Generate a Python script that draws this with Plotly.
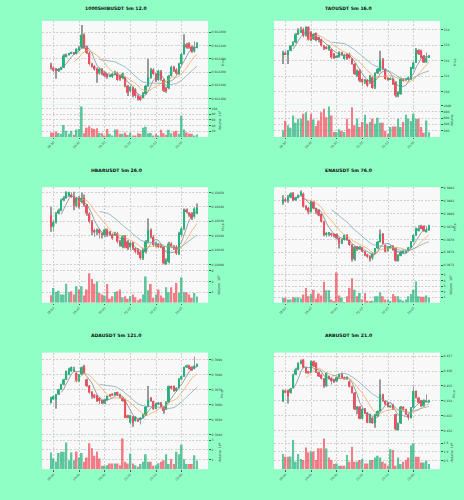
import numpy as np
import pandas as pd
import plotly.graph_objects as go

W, H = 464, 500
N = 58
TIME_INDEX = pd.date_range("2024-05-20 18:45", periods=N, freq="5min")
TICK_POS = [1, 11, 21, 31, 41, 51]
TICK_LABELS = [TIME_INDEX[i].strftime("%H:%M") for i in TICK_POS]
MAV = (5, 10, 20)

# ---------------- data ----------------
shib_open = [0.012211,0.012207,0.012205,0.012202,0.012204,0.012207,0.012224,0.012226,0.012228,0.012229,
             0.012227,0.012233,0.012237,0.012256,0.012237,0.012229,0.012212,0.012209,0.012205,0.012198,
             0.012204,0.012199,0.012197,0.012194,0.012193,0.012197,0.012199,0.012194,0.012191,0.012191,
             0.012179,0.012171,0.012176,0.012174,0.012164,0.012163,0.012161,0.012167,0.012179,0.012192,
             0.012204,0.012197,0.012188,0.012201,0.012188,0.012176,0.012176,0.012194,0.012207,0.012204,
             0.012197,0.012212,0.012227,0.012242,0.012243,0.012238,0.012231,0.012237]
shib_high = [0.012214,0.012209,0.012206,0.012206,0.012208,0.012227,0.012228,0.012229,0.012231,0.012230,
             0.012236,0.012239,0.012271,0.012258,0.012240,0.012231,0.012214,0.012211,0.012207,0.012207,
             0.012206,0.012201,0.012198,0.012196,0.012199,0.012202,0.012201,0.012196,0.012199,0.012193,
             0.012181,0.012180,0.012178,0.012176,0.012166,0.012164,0.012170,0.012181,0.012220,0.012206,
             0.012206,0.012199,0.012204,0.012203,0.012190,0.012178,0.012196,0.012210,0.012209,0.012206,
             0.012214,0.012229,0.012257,0.012244,0.012245,0.012240,0.012246,0.012245]
shib_low = [0.012204,0.012200,0.012190,0.012200,0.012203,0.012206,0.012222,0.012225,0.012227,0.012226,
            0.012226,0.012232,0.012235,0.012235,0.012227,0.012210,0.012207,0.012202,0.012184,0.012196,
            0.012195,0.012192,0.012190,0.012192,0.012191,0.012196,0.012186,0.012187,0.012189,0.012177,
            0.012164,0.012169,0.012162,0.012161,0.012157,0.012156,0.012160,0.012166,0.012178,0.012190,
            0.012195,0.012185,0.012186,0.012187,0.012170,0.012169,0.012174,0.012193,0.012200,0.012196,
            0.012196,0.012211,0.012226,0.012235,0.012235,0.012229,0.012229,0.012236]
shib_close = [0.012207,0.012202,0.012202,0.012204,0.012207,0.012225,0.012226,0.012228,0.012229,0.012228,
              0.012235,0.012237,0.012256,0.012237,0.012229,0.012212,0.012209,0.012204,0.012197,0.012205,
              0.012197,0.012194,0.012193,0.012195,0.012198,0.012200,0.012188,0.012189,0.012198,0.012179,
              0.012169,0.012178,0.012165,0.012164,0.012159,0.012158,0.012168,0.012179,0.012192,0.012204,
              0.012197,0.012187,0.012202,0.012189,0.012172,0.012171,0.012194,0.012208,0.012202,0.012198,
              0.012212,0.012227,0.012242,0.012237,0.012237,0.012231,0.012238,0.012243]
shib_volume_e7 = [16,16,19,14,11,42,22,11,22,8,26,28,107,13,32,38,31,28,31,14,13,5,28,11,5,26,26,11,11,16,
                  7,16,5,5,13,11,32,36,13,14,5,11,5,25,13,8,25,13,19,22,11,75,26,16,11,11,5,9]

tao_open = [332.43,332.53,332.36,332.64,332.96,333.17,333.70,333.81,334.02,333.60,334.17,333.81,333.38,333.77,333.49,
            333.38,332.96,332.89,332.74,332.74,332.43,332.21,332.26,332.53,332.11,332.43,332.43,332.11,331.79,331.04,
            331.36,330.83,330.62,330.77,330.62,330.94,330.30,331.19,331.36,332.06,331.47,330.87,330.81,330.83,330.62,
            329.77,329.87,330.83,330.77,330.77,330.83,331.47,331.89,332.68,332.64,332.32,331.89,332.21]
tao_high = [332.64,332.60,332.68,333.00,333.24,333.77,334.08,334.17,334.13,334.20,334.20,333.91,333.77,333.81,333.55,
            333.43,333.00,332.96,333.00,332.79,332.49,332.36,332.60,332.57,332.45,332.49,332.53,332.17,331.85,331.43,
            331.43,330.89,330.83,330.83,331.09,331.00,331.26,331.53,332.64,332.17,331.53,330.94,330.94,330.89,330.68,
            330.04,330.89,330.89,330.89,331.00,331.62,331.96,332.81,332.74,332.70,332.36,332.53,332.36]
tao_low = [331.79,332.36,331.79,332.60,332.92,333.13,333.64,333.77,333.49,333.55,333.28,333.24,333.32,333.24,333.17,
           332.89,332.68,332.74,332.64,332.11,332.11,332.17,332.21,332.36,332.06,332.06,332.11,331.74,331.09,330.98,
           330.62,330.40,330.51,330.30,330.51,330.19,330.19,331.15,331.30,331.40,330.77,330.72,330.77,330.45,329.66,
           329.66,329.82,330.66,330.72,330.72,330.77,331.43,331.85,332.36,332.15,331.85,331.85,332.17]
tao_close = [332.49,332.43,332.64,332.96,333.17,333.70,333.96,333.96,333.60,334.17,333.32,333.32,333.70,333.32,333.32,
             332.96,332.79,332.81,332.96,332.21,332.17,332.32,332.53,332.43,332.38,332.11,332.17,331.79,331.15,331.36,
             330.72,330.62,330.77,330.40,331.04,330.26,331.19,331.47,332.06,331.47,330.83,330.77,330.89,330.51,329.77,
             329.98,330.83,330.72,330.83,330.94,331.57,331.89,332.68,332.43,332.21,331.89,332.21,332.32]
tao_volume = [210,504,368,294,683,452,578,578,735,788,525,735,557,347,525,788,893,630,966,683,158,158,242,189,158,
              578,263,945,368,578,315,473,704,420,473,578,420,609,452,452,189,105,315,336,336,578,315,473,704,578,
              504,735,578,578,315,137,525,150]

hbar_open = [0.220343,0.220263,0.220297,0.220355,0.220378,0.220447,0.220463,0.220477,0.220486,0.220470,
             0.220406,0.220463,0.220435,0.220463,0.220412,0.220355,0.220297,0.220240,0.220228,0.220244,
             0.220217,0.220205,0.220240,0.220228,0.220205,0.220205,0.220217,0.220159,0.220124,0.220198,
             0.220159,0.220120,0.220152,0.220113,0.220101,0.220090,0.220044,0.220090,0.220159,0.220240,
             0.220194,0.220129,0.220143,0.220136,0.220120,0.220005,0.220021,0.220147,0.220124,0.220124,
             0.220078,0.220205,0.220251,0.220382,0.220359,0.220355,0.220332,0.220355]
hbar_high = [0.220401,0.220310,0.220366,0.220389,0.220458,0.220477,0.220510,0.220505,0.220500,0.220505,
             0.220470,0.220477,0.220500,0.220486,0.220420,0.220366,0.220310,0.220251,0.220251,0.220251,
             0.220223,0.220251,0.220251,0.220233,0.220217,0.220228,0.220228,0.220170,0.220205,0.220205,
             0.220170,0.220159,0.220159,0.220120,0.220113,0.220101,0.220113,0.220170,0.220320,0.220251,
             0.220205,0.220159,0.220152,0.220143,0.220129,0.220044,0.220159,0.220159,0.220136,0.220136,
             0.220228,0.220263,0.220389,0.220389,0.220366,0.220366,0.220400,0.220425]
hbar_low = [0.220228,0.220228,0.220285,0.220350,0.220370,0.220440,0.220458,0.220470,0.220463,0.220378,
            0.220396,0.220389,0.220425,0.220401,0.220340,0.220285,0.220205,0.220194,0.220205,0.220182,
            0.220182,0.220194,0.220194,0.220198,0.220170,0.220198,0.220147,0.220124,0.220113,0.220113,
            0.220101,0.220101,0.220101,0.220078,0.220067,0.220032,0.220032,0.220078,0.220147,0.220182,
            0.220124,0.220120,0.220113,0.220113,0.220000,0.219998,0.220009,0.220113,0.220101,0.220067,
            0.220067,0.220194,0.220240,0.220355,0.220332,0.220310,0.220320,0.220350]
hbar_close = [0.220263,0.220297,0.220355,0.220378,0.220447,0.220463,0.220500,0.220500,0.220470,0.220406,
              0.220463,0.220401,0.220463,0.220412,0.220355,0.220297,0.220233,0.220223,0.220244,0.220217,
              0.220205,0.220244,0.220205,0.220205,0.220182,0.220223,0.220159,0.220136,0.220198,0.220124,
              0.220113,0.220152,0.220113,0.220090,0.220078,0.220044,0.220101,0.220159,0.220240,0.220194,
              0.220136,0.220147,0.220120,0.220120,0.220009,0.220032,0.220147,0.220124,0.220113,0.220078,
              0.220217,0.220251,0.220382,0.220366,0.220343,0.220320,0.220389,0.220396]
hbar_volume_e6 = [1.42,2.78,2.04,2.28,1.54,1.54,3.58,1.98,2.16,1.54,3.09,2.47,3.09,1.36,2.47,5.56,4.44,3.58,4.01,1.85,
                  1.54,1.36,3.52,0.74,1.23,2.04,2.16,2.47,1.05,1.23,0.74,1.23,1.54,1.05,0.49,0.74,1.54,4.94,2.35,3.52,
                  0.93,1.54,2.47,1.36,0.93,2.90,1.98,2.90,1.85,3.70,1.85,4.75,1.98,1.98,1.54,0.93,1.85,1.20]

ena_open = [0.398169,0.398221,0.398210,0.398252,0.398313,0.398221,0.398252,0.398288,0.398313,0.398118,
            0.398092,0.398030,0.398185,0.398082,0.398056,0.397994,0.397875,0.397669,0.397685,0.397695,
            0.397685,0.397685,0.397618,0.397540,0.397592,0.397669,0.397592,0.397514,0.397293,0.397489,
            0.397463,0.397478,0.397411,0.397370,0.397340,0.397308,0.397386,0.397463,0.397566,0.397685,
            0.397514,0.397427,0.397478,0.397499,0.397463,0.397272,0.397349,0.397396,0.397411,0.397427,
            0.397478,0.397566,0.397669,0.397736,0.397808,0.397808,0.397721,0.397746]
ena_high = [0.398288,0.398250,0.398290,0.398330,0.398339,0.398262,0.398300,0.398360,0.398330,0.398130,
            0.398107,0.398200,0.398195,0.398092,0.398070,0.398005,0.397890,0.397715,0.397715,0.397705,
            0.397695,0.397695,0.397630,0.397615,0.397680,0.397680,0.397602,0.397525,0.397500,0.397500,
            0.397500,0.397489,0.397420,0.397380,0.397355,0.397396,0.397470,0.397575,0.397757,0.397700,
            0.397525,0.397500,0.397510,0.397510,0.397475,0.397370,0.397420,0.397435,0.397430,0.397489,
            0.397575,0.397680,0.397785,0.397820,0.397830,0.397820,0.397800,0.397830]
ena_low = [0.398140,0.398180,0.398170,0.398240,0.398195,0.398200,0.398240,0.398280,0.398092,0.398056,
           0.397990,0.398020,0.398070,0.398000,0.397960,0.397860,0.397650,0.397640,0.397650,0.397640,
           0.397630,0.397600,0.397460,0.397530,0.397580,0.397580,0.397500,0.397260,0.397270,0.397420,
           0.397440,0.397400,0.397340,0.397310,0.397260,0.397280,0.397375,0.397450,0.397555,0.397530,
           0.397400,0.397415,0.397465,0.397425,0.397257,0.397260,0.397340,0.397386,0.397400,0.397415,
           0.397465,0.397555,0.397655,0.397725,0.397760,0.397720,0.397710,0.397736]
ena_close = [0.398221,0.398195,0.398262,0.398313,0.398210,0.398252,0.398288,0.398339,0.398107,0.398092,
             0.398020,0.398185,0.398082,0.398030,0.397978,0.397875,0.397669,0.397705,0.397705,0.397669,
             0.397654,0.397618,0.397540,0.397602,0.397669,0.397592,0.397514,0.397293,0.397489,0.397447,
             0.397489,0.397411,0.397360,0.397334,0.397298,0.397386,0.397463,0.397566,0.397685,0.397540,
             0.397411,0.397489,0.397499,0.397437,0.397272,0.397360,0.397411,0.397427,0.397422,0.397478,
             0.397566,0.397669,0.397772,0.397772,0.397772,0.397736,0.397746,0.397813]
ena_volume_e6 = [0.88,0.88,0.59,0.59,1.0,0.88,1.0,0.76,1.47,2.65,1.18,1.59,2.35,0.71,1.65,1.29,3.76,2.24,2.24,0.59,
                 0.18,5.41,1.29,0.88,0.12,1.18,2.65,4.41,2.35,1.18,1.76,0.59,1.76,0.35,0.18,0.35,1.18,1.18,1.88,1.18,
                 0.59,0.59,0.18,1.59,1.18,1.18,0.59,0.35,0.59,1.18,1.59,2.35,3.82,1.18,1.06,1.06,1.29,0.90]

ada_open = [0.706137,0.706357,0.706357,0.706687,0.707018,0.707348,0.707678,0.708009,0.708229,0.708229,
            0.708119,0.707568,0.708009,0.708559,0.707678,0.707282,0.706863,0.706687,0.706621,0.706467,
            0.706291,0.706092,0.706313,0.706687,0.706753,0.706643,0.706841,0.706687,0.706467,0.706357,
            0.705300,0.704815,0.705211,0.704925,0.705035,0.704991,0.705145,0.705300,0.705872,0.706467,
            0.706247,0.705740,0.706026,0.706137,0.705872,0.705696,0.706181,0.707238,0.707238,0.706907,
            0.707128,0.707678,0.707899,0.708493,0.708603,0.708515,0.708383,0.708559]
ada_high = [0.706530,0.706640,0.706720,0.707060,0.707390,0.707720,0.708270,0.708450,0.708560,0.708520,
            0.708160,0.708050,0.708540,0.708650,0.707720,0.707320,0.706900,0.706720,0.706660,0.706500,
            0.706330,0.706400,0.706620,0.706720,0.706790,0.706840,0.706880,0.706730,0.706510,0.706400,
            0.705340,0.705340,0.705250,0.705250,0.705080,0.705190,0.705410,0.705920,0.707238,0.706510,
            0.706290,0.706140,0.706180,0.706180,0.705920,0.706230,0.707280,0.707280,0.707280,0.707170,
            0.707760,0.707940,0.708540,0.708650,0.708650,0.708560,0.709200,0.708740]
ada_low = [0.706090,0.706300,0.705740,0.706650,0.706980,0.707300,0.707640,0.707960,0.708180,0.708180,
           0.707500,0.707520,0.707960,0.708080,0.707190,0.706750,0.706400,0.706420,0.706180,0.706050,
           0.706050,0.706050,0.706270,0.706530,0.706600,0.706600,0.706600,0.706420,0.706200,0.705100,
           0.705100,0.704705,0.704550,0.704880,0.704880,0.704700,0.705100,0.705260,0.705830,0.706200,
           0.705650,0.705700,0.705980,0.705830,0.705400,0.705650,0.706140,0.707020,0.706860,0.706860,
           0.707080,0.707630,0.707850,0.708450,0.708340,0.708250,0.708340,0.708510]
ada_close = [0.706467,0.706577,0.706687,0.707018,0.707348,0.707678,0.708229,0.708383,0.708515,0.708295,
             0.707568,0.708009,0.708493,0.708119,0.707238,0.706797,0.706577,0.706467,0.706247,0.706247,
             0.706092,0.706357,0.706577,0.706577,0.706643,0.706797,0.706643,0.706467,0.706247,0.705145,
             0.705145,0.705300,0.704815,0.705211,0.704925,0.705145,0.705366,0.705872,0.706357,0.706247,
             0.705696,0.706092,0.706137,0.705872,0.705586,0.706181,0.707238,0.707062,0.706907,0.707128,
             0.707722,0.707899,0.708493,0.708603,0.708383,0.708295,0.708603,0.708692]
ada_volume_e6 = [1.72,1.10,0.79,1.66,1.79,1.79,2.76,0.93,1.72,0.93,1.83,1.21,1.66,0.76,1.21,2.69,2.17,1.38,1.83,1.10,
                 0.34,0.34,0.41,0.59,0.59,0.59,0.59,0.41,3.17,0.76,0.59,1.62,0.59,0.41,0.24,0.52,0.76,1.55,0.76,0.76,
                 0.34,0.41,0.62,0.76,0.93,1.55,0.52,1.03,0.52,1.79,1.55,2.52,1.03,0.52,0.52,0.52,1.45,0.90]

arb_open = [0.433987,0.434701,0.434701,0.434545,0.434879,0.435772,0.436107,0.436509,0.436777,0.436219,
            0.435996,0.435929,0.436665,0.436554,0.435929,0.435772,0.435482,0.434991,0.435661,0.435549,
            0.435437,0.435326,0.435549,0.435772,0.435594,0.435482,0.435326,0.434946,0.434545,0.433429,
            0.433607,0.432804,0.433473,0.433205,0.432536,0.432871,0.432491,0.432982,0.433317,0.434433,
            0.433987,0.433875,0.433607,0.433763,0.433094,0.432045,0.432491,0.433607,0.433429,0.433094,
            0.432871,0.433540,0.434656,0.434210,0.434031,0.433652,0.433942,0.433942]
arb_high = [0.434760,0.434760,0.434760,0.434870,0.435830,0.436220,0.436600,0.436780,0.436830,0.436260,
            0.436040,0.436720,0.436720,0.436600,0.435970,0.435820,0.435530,0.435930,0.435700,0.435590,
            0.435480,0.435640,0.435820,0.435890,0.435640,0.435640,0.435370,0.434990,0.434590,0.433650,
            0.433650,0.433520,0.433520,0.433250,0.433140,0.432920,0.433140,0.433360,0.435437,0.434480,
            0.434030,0.433920,0.433740,0.433810,0.433140,0.432540,0.433650,0.433650,0.433470,0.433140,
            0.433590,0.434990,0.434700,0.434250,0.434080,0.434080,0.434440,0.434080]
arb_low = [0.433930,0.434500,0.433830,0.434500,0.434830,0.435720,0.436060,0.436460,0.436170,0.435840,
           0.435840,0.435880,0.436280,0.435880,0.435610,0.435430,0.434880,0.434940,0.435430,0.435100,
           0.435210,0.435280,0.435500,0.435500,0.435430,0.435430,0.434900,0.434500,0.433380,0.433100,
           0.432760,0.432760,0.433110,0.432490,0.432490,0.432440,0.432200,0.432940,0.433270,0.433940,
           0.433720,0.433560,0.433560,0.433380,0.432000,0.432000,0.432440,0.433340,0.433050,0.432700,
           0.432820,0.433490,0.434160,0.433830,0.433600,0.433600,0.433900,0.433900]
arb_close = [0.434701,0.434545,0.434321,0.434813,0.435772,0.436107,0.436509,0.436665,0.436219,0.435884,
             0.435884,0.436665,0.436330,0.435929,0.435661,0.435482,0.434991,0.435884,0.435482,0.435326,
             0.435259,0.435594,0.435772,0.435549,0.435482,0.435594,0.434946,0.434545,0.433429,0.433607,
             0.432804,0.433473,0.433161,0.432536,0.433094,0.432491,0.433094,0.433317,0.434433,0.433987,
             0.433763,0.433607,0.433696,0.433429,0.432089,0.432491,0.433607,0.433384,0.433094,0.432871,
             0.433540,0.434656,0.434210,0.433875,0.433652,0.434031,0.434031,0.434031]
arb_volume_e6 = [0.87,0.71,0.71,0.73,1.69,0.42,0.87,0.58,0.52,1.25,0.96,1.02,1.02,0.52,1.21,1.21,1.77,1.19,0.67,0.52,
                 0.29,0.33,0.19,0.19,0.19,0.81,0.42,1.29,0.42,0.42,0.52,0.58,0.33,0.33,0.52,0.52,0.67,0.77,0.67,0.42,
                 0.33,0.19,1.15,1.10,0.19,0.67,0.29,0.42,0.52,0.67,1.38,1.48,0.71,0.71,0.38,0.38,0.48,0.30]

SHIB_PRICE_TICKS = [0.01216, 0.01218, 0.01220, 0.01222, 0.01224, 0.01226]
TAO_PRICE_TICKS = [330, 331, 332, 333, 334]
HBAR_PRICE_TICKS = [0.2200, 0.2201, 0.2202, 0.2203, 0.2204, 0.2205]
ENA_PRICE_TICKS = [0.3972, 0.3974, 0.3976, 0.3978, 0.3980, 0.3982, 0.3984]
ADA_PRICE_TICKS = [0.704, 0.705, 0.706, 0.707, 0.708, 0.709]
ARB_PRICE_TICKS = [0.432, 0.433, 0.434, 0.435, 0.436, 0.437]

SHIB_VOL_TICKS = [20, 40, 60, 80, 100]
TAO_VOL_TICKS = [200, 400, 600, 800, 1000]
HBAR_VOL_TICKS = [2, 4, 6]
ENA_VOL_TICKS = [1, 2, 3, 4, 5]
ADA_VOL_TICKS = [1, 2, 3]
ARB_VOL_TICKS = [0.5, 1.0, 1.5]

# ---------------- style / layout ----------------
UP = "#22b47c"
DOWN = "#f04e5c"
WICK = "#9a9a9a"
MA_COLORS = ["#6d7b84", "#f2a24c", "#74a2aa"]
BG = "#8fffc6"
PANEL = "#f8f8f8"
GRID = "#d0d0d0"
FONT = "DejaVu Sans"

COLS = [(42, 208), (274, 440)]
ROWS = [(20, 104, 136.5), (187, 268, 303), (353, 437, 470)]
TITLE_Y = [8, 170, 336]
COL_CENTER = [116, 348]
XR = [-3.5, 61.3]

charts = [
    dict(title="1000SHIBUSDT 5m 12.0", o=shib_open, h=shib_high, l=shib_low, c=shib_close, v=shib_volume_e7,
         vexp=7, pt=SHIB_PRICE_TICKS, pf="{:.6f}", pr=[0.012151, 0.012277], vt=SHIB_VOL_TICKS, vf="{:.0f}", vr=[0, 114]),
    dict(title="TAOUSDT 5m 16.0", o=tao_open, h=tao_high, l=tao_low, c=tao_close, v=tao_volume,
         vexp=None, pt=TAO_PRICE_TICKS, pf="{:.0f}", pr=[329.19, 334.55], vt=TAO_VOL_TICKS, vf="{:.0f}", vr=[0, 1029]),
    dict(title="HBARUSDT 5m 26.0", o=hbar_open, h=hbar_high, l=hbar_low, c=hbar_close, v=hbar_volume_e6,
         vexp=6, pt=HBAR_PRICE_TICKS, pf="{:.5f}", pr=[0.219977, 0.220537], vt=HBAR_VOL_TICKS, vf="{:.0f}", vr=[0, 6.54]),
    dict(title="ENAUSDT 5m 76.0", o=ena_open, h=ena_high, l=ena_low, c=ena_close, v=ena_volume_e6,
         vexp=6, pt=ENA_PRICE_TICKS, pf="{:.4f}", pr=[0.397159, 0.398411], vt=ENA_VOL_TICKS, vf="{:.0f}", vr=[0, 6.24]),
    dict(title="ADAUSDT 5m 121.0", o=ada_open, h=ada_high, l=ada_low, c=ada_close, v=ada_volume_e6,
         vexp=6, pt=ADA_PRICE_TICKS, pf="{:.4f}", pr=[0.703912, 0.709463], vt=ADA_VOL_TICKS, vf="{:.0f}", vr=[0, 3.41]),
    dict(title="ARBUSDT 5m 21.0", o=arb_open, h=arb_high, l=arb_low, c=arb_close, v=arb_volume_e6,
         vexp=6, pt=ARB_PRICE_TICKS, pf="{:.3f}", pr=[0.431621, 0.437246], vt=ARB_VOL_TICKS, vf="{:.1f}", vr=[0, 1.90]),
]


def axname(letter, n):
    return f"{letter}axis" if n == 1 else f"{letter}axis{n}"


def ref(letter, n):
    return letter if n == 1 else f"{letter}{n}"


fig = go.Figure()
layout = {}
annotations = []
xs = np.arange(N)
tickfont = dict(size=3, color="#333333", family=FONT)
grid = dict(showgrid=True, gridcolor=GRID, griddash="2px,1.5px", gridwidth=0.5, zeroline=False)

for k, ch in enumerate(charts):
    r, cidx = divmod(k, 2)
    x0, x1 = COLS[cidx]
    T, S, B = ROWS[r]
    pn, vn = 2 * k + 1, 2 * k + 2
    o, h, l, c = (np.array(ch[key], dtype=float) for key in ("o", "h", "l", "c"))
    v = np.array(ch["v"], dtype=float)
    up = c >= o
    colors = np.where(up, UP, DOWN).tolist()
    rng = ch["pr"][1] - ch["pr"][0]
    body = np.maximum(np.abs(c - o), rng * 0.005)
    base = np.minimum(o, c)

    fig.add_trace(go.Bar(x=xs, y=h - l, base=l, width=0.28, marker=dict(color=WICK, line_width=0),
                         xaxis=ref("x", pn), yaxis=ref("y", pn), hoverinfo="skip"))
    fig.add_trace(go.Bar(x=xs, y=body, base=base, width=0.68, marker=dict(color=colors, line_width=0),
                         xaxis=ref("x", pn), yaxis=ref("y", pn), hoverinfo="skip"))
    for w, col in zip(MAV, MA_COLORS):
        ma = pd.Series(c).rolling(w).mean()
        fig.add_trace(go.Scatter(x=xs, y=ma, mode="lines", line=dict(color=col, width=0.7),
                                 xaxis=ref("x", pn), yaxis=ref("y", pn), hoverinfo="skip"))
    fig.add_trace(go.Bar(x=xs, y=v, width=0.7, marker=dict(color=colors, opacity=0.72, line_width=0),
                         xaxis=ref("x", vn), yaxis=ref("y", vn), hoverinfo="skip"))

    xdom = [x0 / W, x1 / W]
    layout[axname("x", pn)] = dict(domain=xdom, range=XR, anchor=ref("y", pn), tickvals=TICK_POS,
                                   showticklabels=False, ticks="", **grid)
    layout[axname("y", pn)] = dict(domain=[1 - S / H, 1 - T / H], range=ch["pr"], side="right",
                                   anchor=ref("x", pn), tickvals=ch["pt"],
                                   ticktext=[ch["pf"].format(t) for t in ch["pt"]],
                                   tickfont=tickfont, ticks="outside", ticklen=2, tickwidth=0.5,
                                   tickcolor="#555555", **grid)
    layout[axname("x", vn)] = dict(domain=xdom, range=XR, anchor=ref("y", vn), tickvals=TICK_POS,
                                   ticktext=TICK_LABELS, tickangle=-45, tickfont=tickfont,
                                   ticks="outside", ticklen=1.5, tickwidth=0.5, tickcolor="#555555", **grid)
    layout[axname("y", vn)] = dict(domain=[1 - B / H, 1 - S / H], range=ch["vr"], side="right",
                                   anchor=ref("x", vn), tickvals=ch["vt"],
                                   ticktext=[ch["vf"].format(t) for t in ch["vt"]],
                                   tickfont=tickfont, ticks="outside", ticklen=2, tickwidth=0.5,
                                   tickcolor="#555555", **grid)

    annotations.append(dict(text=f"<b>{ch['title']}</b>", x=COL_CENTER[cidx] / W, y=1 - TITLE_Y[r] / H,
                            xref="paper", yref="paper", showarrow=False, xanchor="center", yanchor="middle",
                            font=dict(size=4.6, color="#111111", family=FONT)))
    annotations.append(dict(text="Price", x=(x1 + 14.5) / W, y=1 - (T + S) / 2 / H, xref="paper", yref="paper",
                            showarrow=False, textangle=-90, xanchor="center", yanchor="middle",
                            font=dict(size=3.2, color="#333333", family=FONT)))
    vlabel = "Volume" if ch["vexp"] is None else f"Volume  10<sup>{ch['vexp']}</sup>"
    annotations.append(dict(text=vlabel, x=(x1 + 11.5) / W, y=1 - (S + B) / 2 / H, xref="paper", yref="paper",
                            showarrow=False, textangle=-90, xanchor="center", yanchor="middle",
                            font=dict(size=3.2, color="#333333", family=FONT)))

fig.update_layout(width=W, height=H, margin=dict(l=0, r=0, t=0, b=0), paper_bgcolor=BG, plot_bgcolor=PANEL,
                  showlegend=False, barmode="overlay", annotations=annotations,
                  font=dict(family=FONT), **layout)

fig.write_html("out.html", config={"displayModeBar": False})
